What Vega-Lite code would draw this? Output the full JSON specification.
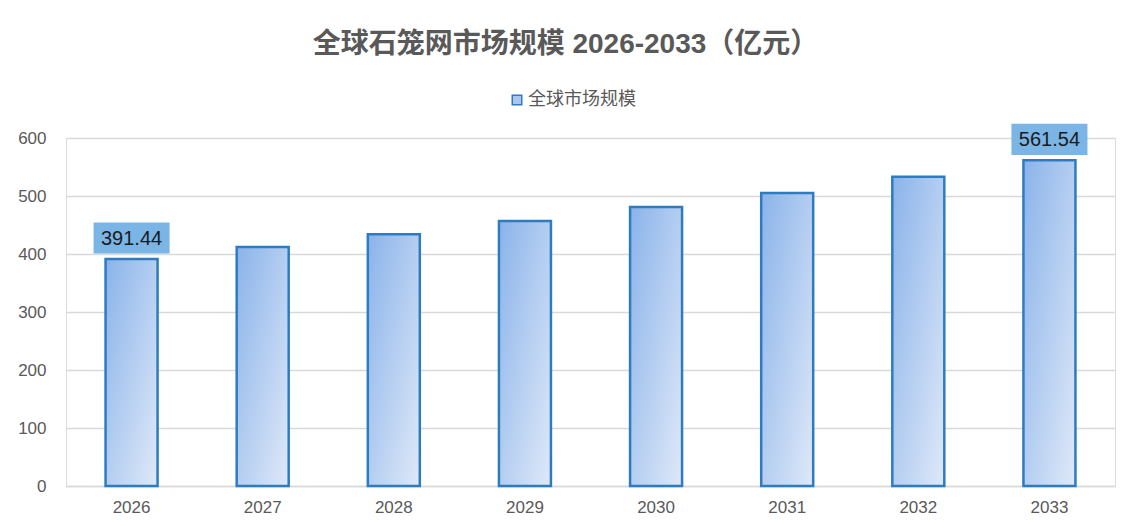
{
  "$schema": "https://vega.github.io/schema/vega-lite/v6.json",
  "autosize": {"type": "none"},
  "width": 1049,
  "height": 348,
  "padding": {"left": 66, "top": 138, "right": 24, "bottom": 46},
  "background": "white",
  "title": {
    "text": "全球石笼网市场规模 2026-2033（亿元）",
    "font": "Liberation Sans, Noto Sans CJK SC",
    "fontSize": 28,
    "fontWeight": "bold",
    "color": "#595959",
    "anchor": "middle",
    "dx": -25,
    "offset": 32
  },
  "data": {
    "values": [
      {"year": "2026", "value": 391.44, "label": "391.44", "series": "全球市场规模"},
      {"year": "2027", "value": 412, "label": "", "series": "全球市场规模"},
      {"year": "2028", "value": 434, "label": "", "series": "全球市场规模"},
      {"year": "2029", "value": 457, "label": "", "series": "全球市场规模"},
      {"year": "2030", "value": 481, "label": "", "series": "全球市场规模"},
      {"year": "2031", "value": 505, "label": "", "series": "全球市场规模"},
      {"year": "2032", "value": 533, "label": "", "series": "全球市场规模"},
      {"year": "2033", "value": 561.54, "label": "561.54", "series": "全球市场规模"}
    ]
  },
  "encoding": {
    "x": {
      "field": "year",
      "type": "ordinal",
      "scale": {"paddingInner": 0.6, "paddingOuter": 0.3},
      "axis": {
        "title": null,
        "labelAngle": 0,
        "labelFont": "Liberation Sans",
        "labelFontSize": 17,
        "labelColor": "#595959",
        "labelPadding": 13,
        "ticks": false,
        "domainColor": "#d9d9d9",
        "domainWidth": 1.5,
        "grid": false
      }
    },
    "y": {
      "field": "value",
      "type": "quantitative",
      "scale": {"domain": [0, 600]},
      "axis": {
        "title": null,
        "values": [0, 100, 200, 300, 400, 500, 600],
        "labelFont": "Liberation Sans",
        "labelFontSize": 17,
        "labelColor": "#595959",
        "labelPadding": 20,
        "ticks": false,
        "domain": false,
        "gridColor": "#d9d9d9",
        "gridWidth": 1.5
      }
    }
  },
  "layer": [
    {
      "mark": {
        "type": "bar",
        "width": 52,
        "stroke": "#2e7cc0",
        "strokeWidth": 2.5,
        "fill": {
          "gradient": "linear",
          "x1": 0, "y1": 0, "x2": 1, "y2": 1,
          "stops": [
            {"offset": 0, "color": "#8ab3ea"},
            {"offset": 1, "color": "#dfe9f8"}
          ]
        }
      }
    },
    {
      "mark": {"type": "point", "filled": true, "size": 0, "opacity": 0},
      "encoding": {
        "fill": {
          "field": "series",
          "type": "nominal",
          "scale": {"range": ["#a9c6ef"]},
          "legend": {
            "title": null,
            "orient": "none",
            "legendX": 442,
            "legendY": -47,
            "symbolType": "square",
            "symbolSize": 90,
            "symbolOpacity": 1,
            "symbolStrokeColor": "#2e7cc0",
            "symbolStrokeWidth": 1.5,
            "labelFont": "Noto Sans CJK SC",
            "labelFontSize": 18,
            "labelColor": "#595959",
            "labelOffset": 2
          }
        }
      }
    },
    {
      "transform": [{"filter": "datum.label != ''"}],
      "mark": {
        "type": "point",
        "shape": "M-1,-0.41L1,-0.41L1,0.41L-1,0.41Z",
        "size": 5776,
        "filled": true,
        "color": "#7ab5e6",
        "opacity": 1,
        "yOffset": -21
      }
    },
    {
      "transform": [{"filter": "datum.label != ''"}],
      "mark": {
        "type": "text",
        "font": "Liberation Sans",
        "fontSize": 20,
        "color": "#1a1a1a",
        "yOffset": -20,
        "baseline": "middle"
      },
      "encoding": {"text": {"field": "label"}}
    }
  ]
}
